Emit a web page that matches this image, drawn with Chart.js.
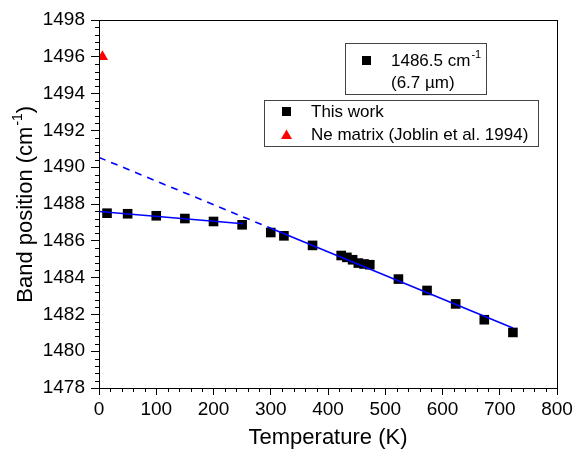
<!DOCTYPE html>
<html>
<head>
<meta charset="utf-8">
<script src="https://cdn.jsdelivr.net/npm/chart.js@4.4.1/dist/chart.umd.min.js"></script>
<style>
  html, body { margin: 0; padding: 0; background: #fff; }
  #wrap { width: 577px; height: 454px; }
</style>
</head>
<body>
<div id="wrap"><canvas id="chart" width="577" height="454"></canvas></div>
<script>
// measured band position vs temperature (this work)
const tempThisWork = [14, 50, 100, 150, 200, 250, 300, 323, 373, 423, 433, 443, 453, 463, 473, 523, 573, 623, 673, 723];
const bandThisWork = [1487.50, 1487.47, 1487.36, 1487.21, 1487.05, 1486.87, 1486.45, 1486.27, 1485.75, 1485.20, 1485.10, 1484.97, 1484.79, 1484.74, 1484.70, 1483.92, 1483.30, 1482.57, 1481.71, 1481.02];

// Ne matrix value
const tempNeMatrix = [6];
const bandNeMatrix = [1496.0];

// fit lines
const lowFitTemp = [0, 252];
const lowFitBand = [1487.59, 1486.93];
const extrapTemp = [0, 300];
const extrapBand = [1490.53, 1486.68];
const highFitTemp = [300, 723];
const highFitBand = [1486.68, 1481.26];

const xTicks = [0, 100, 200, 300, 400, 500, 600, 700, 800];
const yTicks = [1478, 1480, 1482, 1484, 1486, 1488, 1490, 1492, 1494, 1496, 1498];

const bandLabel = '1486.5 cm';
const waveLabel = '(6.7 \u00b5m)';
const seriesLabels = ['This work', 'Ne matrix (Joblin et al. 1994)'];
const yTitle = ['Band position (cm', '-1', ')'];

const FONT = "'Liberation Sans', Arial, sans-serif";

const toPoints = (xs, ys) => xs.map((x, i) => ({ x: x, y: ys[i] }));

// text with a raised small part, e.g. cm-1
const drawSup = (ctx, parts, x, y, size, supSize, rise) => {
  ctx.font = size + 'px ' + FONT;
  ctx.fillText(parts[0], x, y);
  let w = ctx.measureText(parts[0]).width;
  ctx.font = supSize + 'px ' + FONT;
  ctx.fillText(parts[1], x + w + 1, y - rise);
  w += ctx.measureText(parts[1]).width + 1;
  if (parts[2]) {
    ctx.font = size + 'px ' + FONT;
    ctx.fillText(parts[2], x + w, y);
  }
};

// frame, minor ticks and the y title
const framePlugin = {
  id: 'frame',
  afterDraw(chart) {
    const { ctx, chartArea: a, scales: { x, y } } = chart;
    ctx.save();
    ctx.strokeStyle = '#000';
    ctx.lineWidth = 1;
    ctx.strokeRect(Math.round(a.left) + 0.5, Math.round(a.top) + 0.5, Math.round(a.right - a.left), Math.round(a.bottom - a.top));
    ctx.beginPath();
    for (let i = 0; i <= 40; i++) {
      if (i % 5 === 0) continue;
      const px = Math.round(x.getPixelForValue(i * 20)) + 0.5;
      ctx.moveTo(px, a.bottom);
      ctx.lineTo(px, a.bottom + 4);
    }
    for (let i = 0; i <= 50; i++) {
      if (i % 5 === 0) continue;
      const py = Math.round(y.getPixelForValue(1478 + i * 0.4)) + 0.5;
      ctx.moveTo(a.left, py);
      ctx.lineTo(a.left - 4, py);
    }
    ctx.stroke();

    // y axis title
    ctx.fillStyle = '#000';
    ctx.textBaseline = 'middle';
    ctx.textAlign = 'left';
    ctx.translate(26, (a.top + a.bottom) / 2);
    ctx.rotate(-Math.PI / 2);
    ctx.font = '22px ' + FONT;
    const full = ctx.measureText(yTitle[0] + yTitle[2]).width + 14;
    drawSup(ctx, yTitle, -full / 2, 0, 22, 14, 8);
    ctx.restore();
  }
};

// the two legend boxes
const legendPlugin = {
  id: 'boxLegends',
  afterDraw(chart) {
    const ctx = chart.ctx;
    ctx.save();
    ctx.strokeStyle = '#444';
    ctx.lineWidth = 1;
    ctx.fillStyle = '#fff';
    ctx.fillRect(345, 43, 141, 51);
    ctx.strokeRect(345.5, 43.5, 141, 51);
    ctx.fillRect(264, 100, 274, 46);
    ctx.strokeRect(264.5, 100.5, 274, 46);

    ctx.fillStyle = '#000';
    ctx.fillRect(362, 56, 9, 9);
    ctx.textBaseline = 'middle';
    ctx.textAlign = 'left';
    drawSup(ctx, [bandLabel, '-1'], 391, 61, 17, 11, 6);
    ctx.font = '17px ' + FONT;
    ctx.fillText(waveLabel, 391, 83);

    ctx.fillRect(282, 107, 9, 9);
    ctx.fillText(seriesLabels[0], 311, 112);
    ctx.fillStyle = '#ff0000';
    ctx.beginPath();
    ctx.moveTo(286.5, 129.5);
    ctx.lineTo(292, 139);
    ctx.lineTo(281, 139);
    ctx.closePath();
    ctx.fill();
    ctx.fillStyle = '#000';
    ctx.fillText(seriesLabels[1], 311, 135);
    ctx.restore();
  }
};

const chartCtx = document.getElementById('chart').getContext('2d');

new Chart(chartCtx, {
  type: 'scatter',
  data: {
    datasets: [
      {
        label: 'low T fit',
        data: toPoints(lowFitTemp, lowFitBand),
        showLine: true,
        borderColor: '#0000ff',
        borderWidth: 1.6,
        pointRadius: 0,
      },
      {
        label: 'extrapolation',
        data: toPoints(extrapTemp, extrapBand),
        showLine: true,
        borderColor: '#0000ff',
        borderWidth: 1.6,
        borderDash: [7, 6],
        pointRadius: 0,
      },
      {
        label: 'high T fit',
        data: toPoints(highFitTemp, highFitBand),
        showLine: true,
        borderColor: '#0000ff',
        borderWidth: 1.6,
        pointRadius: 0,
      },
      {
        label: seriesLabels[0],
        data: toPoints(tempThisWork, bandThisWork),
        pointStyle: 'rect',
        pointRadius: 6.8,
        pointBackgroundColor: '#000',
        pointBorderWidth: 0,
      },
      {
        label: seriesLabels[1],
        data: toPoints(tempNeMatrix, bandNeMatrix),
        pointStyle: 'triangle',
        pointRadius: 6.5,
        pointBackgroundColor: '#ff0000',
        pointBorderWidth: 0,
      },
    ],
  },
  options: {
    responsive: false,
    animation: false,
    layout: { padding: { top: 20, right: 20, left: 0, bottom: 0 } },
    plugins: {
      legend: { display: false },
      tooltip: { enabled: false },
    },
    scales: {
      x: {
        type: 'linear',
        min: 0,
        max: 800,
        afterFit: (s) => { s.height = 66; },
        afterBuildTicks: (s) => { s.ticks = xTicks.map((v) => ({ value: v })); },
        ticks: { color: '#000', font: { size: 19, family: FONT }, padding: 3, maxRotation: 0, callback: (v) => String(v) },
        grid: { drawOnChartArea: false, tickLength: 7, tickColor: '#000' },
        border: { display: false },
        title: {
          display: true,
          text: 'Temperature (K)',
          color: '#000',
          font: { size: 22, family: FONT },
          padding: { top: 0, bottom: 3 },
        },
      },
      y: {
        type: 'linear',
        min: 1478,
        max: 1498,
        afterFit: (s) => { s.width = 99; },
        afterBuildTicks: (s) => { s.ticks = yTicks.map((v) => ({ value: v })); },
        ticks: { color: '#000', font: { size: 19, family: FONT }, padding: 6, callback: (v) => String(v) },
        grid: { drawOnChartArea: false, tickLength: 8, tickColor: '#000' },
        border: { display: false },
      },
    },
  },
  plugins: [framePlugin, legendPlugin],
});
</script>
</body>
</html>
